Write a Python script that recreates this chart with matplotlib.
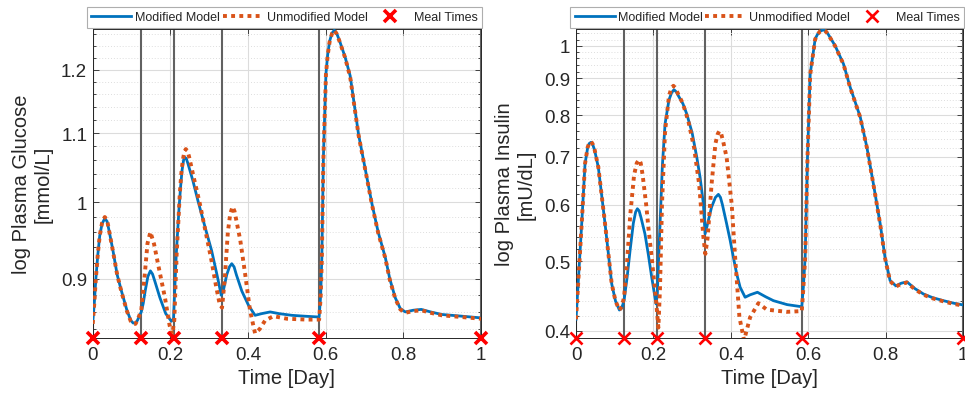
import numpy as np
import matplotlib.pyplot as plt
from matplotlib.ticker import FixedLocator, NullFormatter, FuncFormatter

plt.rcParams['font.family'] = ['Liberation Sans', 'DejaVu Sans']

# meal times [day]
meals = [0, 3/24, 5/24, 8/24, 14/24, 1]

# ---- glucose, modified model
t_gm = [0.0, 0.004, 0.008, 0.013, 0.018, 0.024, 0.031, 0.037, 0.042, 0.052, 0.063, 0.074, 0.088,
        0.098, 0.104, 0.110, 0.115, 0.125, 0.130, 0.135, 0.142, 0.1485, 0.154, 0.160, 0.173,
        0.188, 0.2026, 0.208, 0.215, 0.222, 0.226, 0.230, 0.234, 0.237, 0.241, 0.245, 0.258,
        0.271, 0.290, 0.306, 0.320, 0.331, 0.336, 0.345, 0.352, 0.358, 0.364, 0.370, 0.384,
        0.401, 0.418, 0.435, 0.457, 0.480, 0.513, 0.545, 0.583, 0.587, 0.590, 0.594, 0.6005,
        0.605, 0.610, 0.616, 0.622, 0.628, 0.635, 0.650, 0.663, 0.6845, 0.700, 0.719, 0.735,
        0.7534, 0.765, 0.779, 0.792, 0.805, 0.825, 0.846, 0.870, 0.899, 0.950, 1.0]
g_mod = [0.848, 0.870, 0.900, 0.930, 0.955, 0.971, 0.978, 0.974, 0.962, 0.936, 0.905, 0.885,
         0.862, 0.850, 0.847, 0.847, 0.850, 0.860, 0.870, 0.885, 0.903, 0.910, 0.906, 0.897,
         0.877, 0.858, 0.849, 0.852, 0.930, 0.990, 1.020, 1.045, 1.060, 1.064, 1.062, 1.055,
         1.030, 1.002, 0.965, 0.936, 0.905, 0.880, 0.885, 0.905, 0.915, 0.919, 0.915, 0.905,
         0.885, 0.868, 0.856, 0.858, 0.860, 0.858, 0.856, 0.855, 0.854, 0.880, 0.927, 1.064,
         1.193, 1.225, 1.248, 1.262, 1.267, 1.262, 1.250, 1.221, 1.190, 1.098, 1.052, 0.998,
         0.960, 0.927, 0.900, 0.877, 0.864, 0.860, 0.862, 0.863, 0.860, 0.857, 0.855, 0.853]

# ---- glucose, unmodified model
t_gu = [0.0, 0.004, 0.008, 0.013, 0.018, 0.024, 0.031, 0.037, 0.042, 0.052, 0.063, 0.074, 0.088,
        0.098, 0.104, 0.110, 0.115, 0.125, 0.133, 0.141, 0.1485, 0.158, 0.168, 0.186, 0.198,
        0.205, 0.210, 0.216, 0.224, 0.228, 0.232, 0.236, 0.2397, 0.244, 0.248, 0.260, 0.275,
        0.290, 0.305, 0.318, 0.327, 0.333, 0.340, 0.348, 0.354, 0.360, 0.365, 0.370, 0.380,
        0.3925, 0.405, 0.418, 0.430, 0.444, 0.4655, 0.500, 0.550, 0.583, 0.587, 0.590, 0.594,
        0.6005, 0.605, 0.610, 0.616, 0.622, 0.628, 0.635, 0.650, 0.663, 0.6845, 0.700, 0.719,
        0.735, 0.7534, 0.765, 0.779, 0.792, 0.805, 0.825, 0.846, 0.870, 0.899, 0.950, 1.0]
g_unmod = [0.846, 0.870, 0.900, 0.931, 0.955, 0.972, 0.980, 0.976, 0.962, 0.935, 0.905, 0.884,
           0.861, 0.849, 0.846, 0.846, 0.850, 0.862, 0.900, 0.945, 0.960, 0.944, 0.919, 0.877,
           0.844, 0.834, 0.850, 0.930, 1.010, 1.040, 1.060, 1.072, 1.076, 1.073, 1.065, 1.035,
           1.000, 0.962, 0.925, 0.890, 0.869, 0.865, 0.900, 0.960, 0.984, 0.994, 0.988, 0.975,
           0.949, 0.906, 0.862, 0.835, 0.840, 0.850, 0.855, 0.852, 0.851, 0.851, 0.878, 0.925,
           1.062, 1.192, 1.224, 1.247, 1.261, 1.267, 1.261, 1.249, 1.220, 1.188, 1.097, 1.051,
           0.997, 0.959, 0.926, 0.899, 0.876, 0.863, 0.859, 0.861, 0.862, 0.859, 0.856, 0.854,
           0.852]

# ---- insulin, modified model
t_im = [0.0, 0.005, 0.0147, 0.0233, 0.030, 0.034, 0.0388, 0.043, 0.048, 0.0577, 0.066, 0.075,
        0.084, 0.0922, 0.102, 0.112, 0.118, 0.124, 0.132, 0.1395, 0.148, 0.154, 0.1585, 0.163,
        0.168, 0.178, 0.187, 0.1955, 0.2067, 0.210, 0.213, 0.217, 0.223, 0.230, 0.240, 0.247,
        0.253, 0.259, 0.265, 0.276, 0.286, 0.300, 0.312, 0.3204, 0.329, 0.3333, 0.340, 0.350,
        0.360, 0.3677, 0.373, 0.378, 0.389, 0.398, 0.4065, 0.415, 0.4238, 0.4367, 0.450,
        0.4685, 0.490, 0.510, 0.545, 0.583, 0.587, 0.5917, 0.5977, 0.6047, 0.6176, 0.624,
        0.630, 0.639, 0.645, 0.650, 0.669, 0.6907, 0.708, 0.734, 0.751, 0.768, 0.7855, 0.798,
        0.811, 0.826, 0.840, 0.8545, 0.875, 0.8975, 0.920, 0.949, 0.975, 1.0]
i_mod = [0.415, 0.460, 0.564, 0.684, 0.720, 0.730, 0.733, 0.728, 0.715, 0.676, 0.620, 0.564,
         0.510, 0.465, 0.440, 0.4275, 0.430, 0.4405, 0.475, 0.517, 0.565, 0.586, 0.592, 0.588,
         0.575, 0.546, 0.510, 0.475, 0.436, 0.450, 0.500, 0.564, 0.680, 0.778, 0.840, 0.860,
         0.868, 0.862, 0.850, 0.830, 0.803, 0.755, 0.698, 0.655, 0.601, 0.546, 0.565, 0.595,
         0.614, 0.620, 0.614, 0.600, 0.564, 0.535, 0.506, 0.480, 0.460, 0.4454, 0.449,
         0.4526, 0.446, 0.4405, 0.435, 0.432, 0.460, 0.506, 0.698, 0.913, 1.022, 1.038,
         1.048, 1.052, 1.048, 1.040, 1.000, 0.943, 0.875, 0.795, 0.722, 0.641, 0.564, 0.506,
         0.470, 0.462, 0.466, 0.468, 0.458, 0.450, 0.445, 0.4405, 0.437, 0.4345]

# ---- insulin, unmodified model
t_iu = [0.0, 0.005, 0.0147, 0.0233, 0.030, 0.034, 0.0388, 0.043, 0.048, 0.0577, 0.066, 0.075,
        0.084, 0.0922, 0.102, 0.112, 0.118, 0.124, 0.132, 0.140, 0.150, 0.157, 0.1628, 0.167,
        0.172, 0.181, 0.188, 0.1955, 0.2067, 0.2127, 0.217, 0.222, 0.230, 0.240, 0.246, 0.2515,
        0.257, 0.262, 0.276, 0.290, 0.305, 0.318, 0.329, 0.334, 0.340, 0.350, 0.360, 0.366,
        0.3703, 0.375, 0.380, 0.389, 0.402, 0.411, 0.422, 0.434, 0.4496, 0.471, 0.4927, 0.5444,
        0.583, 0.587, 0.5917, 0.5977, 0.6047, 0.6176, 0.624, 0.630, 0.639, 0.645, 0.650, 0.669,
        0.6907, 0.708, 0.734, 0.751, 0.768, 0.7855, 0.798, 0.811, 0.826, 0.840, 0.8545, 0.875,
        0.8975, 0.920, 0.949, 0.975, 1.0]
i_unmod = [0.415, 0.460, 0.564, 0.684, 0.721, 0.731, 0.735, 0.729, 0.716, 0.676, 0.620, 0.564,
           0.510, 0.465, 0.440, 0.4275, 0.432, 0.445, 0.500, 0.580, 0.660, 0.686, 0.693, 0.686,
           0.660, 0.601, 0.550, 0.506, 0.4405, 0.404, 0.460, 0.600, 0.760, 0.850, 0.872, 0.879,
           0.872, 0.860, 0.830, 0.785, 0.720, 0.640, 0.540, 0.512, 0.540, 0.640, 0.730, 0.753,
           0.760, 0.753, 0.735, 0.698, 0.601, 0.506, 0.4176, 0.388, 0.4176, 0.437, 0.428, 0.425,
           0.426, 0.458, 0.504, 0.696, 0.911, 1.021, 1.037, 1.047, 1.051, 1.047, 1.039, 0.999,
           0.942, 0.874, 0.794, 0.721, 0.640, 0.563, 0.505, 0.469, 0.461, 0.465, 0.467, 0.457,
           0.449, 0.444, 0.4395, 0.436, 0.4335]

panels = [
    dict(t1=t_gm, y1=g_mod, t2=t_gu, y2=g_unmod, ylim=(0.8297, 1.2687),
         major=[0.9, 1.0, 1.1, 1.2], minor=np.round(np.arange(0.84, 1.27, 0.02), 2),
         ylabel='log Plasma Glucose\n[mmol/L]', pos=[0.0961, 0.165, 0.4024, 0.7603], mew=2.6),
    dict(t1=t_im, y1=i_mod, t2=t_iu, y2=i_unmod, ylim=(0.3907, 1.054),
         major=[0.4, 0.5, 0.6, 0.7, 0.8, 0.9, 1.0], minor=np.round(np.arange(0.40, 1.06, 0.02), 2),
         ylabel='log Plasma Insulin\n[mU/dL]', pos=[0.5969, 0.165, 0.4013, 0.7603], mew=1.9),
]

fig = plt.figure(figsize=(9.65, 4.06), dpi=100)
txt = '#262626'

for p in panels:
    ax = fig.add_axes(p['pos'])
    ax.set_yscale('log')
    for m in meals:
        ax.axvline(m, color='#616161', lw=1.5, zorder=1.5)
    ax.plot(p['t1'], p['y1'], color='#0072BD', lw=2.0, zorder=3, label='Modified Model')
    ax.plot(p['t2'], p['y2'], color='#D95319', lw=2.8, linestyle=(0, (1, 1.1)),
            dash_capstyle='butt', zorder=4, label='Unmodified Model')
    ax.plot(meals, [p['ylim'][0]] * len(meals), linestyle='none', marker='x', color='red',
            markersize=8, mew=p['mew'], clip_on=False, zorder=6, label='Meal Times')
    ax.set_xlim(0, 1)
    ax.set_ylim(*p['ylim'])
    ax.set_xticks([0, 0.2, 0.4, 0.6, 0.8, 1])
    ax.xaxis.set_major_formatter(FuncFormatter(lambda v, _: '%g' % round(v, 2)))
    ax.yaxis.set_major_locator(FixedLocator(p['major']))
    ax.yaxis.set_major_formatter(FuncFormatter(lambda v, _: '%g' % round(v, 2)))
    ax.yaxis.set_minor_locator(FixedLocator(p['minor']))
    ax.yaxis.set_minor_formatter(NullFormatter())
    ax.grid(True, which='major', color='#dcdcdc', lw=0.8, zorder=0)
    ax.grid(True, which='minor', axis='y', color='#dedede', lw=0.7, linestyle=(0, (1, 2)), zorder=0)
    ax.set_axisbelow(True)
    ax.tick_params(which='both', direction='in', top=True, right=True, colors=txt,
                   labelsize=13.5, width=0.6)
    ax.tick_params(which='major', length=4)
    ax.tick_params(which='minor', length=2.5)
    ax.tick_params(axis='x', pad=6)
    ax.tick_params(axis='y', pad=4)
    for s in ax.spines.values():
        s.set_color(txt)
        s.set_linewidth(0.7)
    ax.set_xlabel('Time [Day]', fontsize=14.5, color=txt, labelpad=3)
    ax.set_ylabel(p['ylabel'], fontsize=14.5, color=txt, labelpad=6)
    leg = ax.legend(loc='lower left', bbox_to_anchor=(-0.015, 1.005, 1.018, 0.08), mode='expand',
                    ncol=3, fontsize=9, frameon=True, fancybox=False, handlelength=3.2,
                    handletextpad=0.3, columnspacing=0.8, borderpad=0.35, borderaxespad=0.0)
    leg.get_frame().set_edgecolor('#9a9a9a')
    leg.get_frame().set_linewidth(0.8)
    for t in leg.get_texts():
        t.set_color(txt)

fig.savefig('out.png', dpi=100)
